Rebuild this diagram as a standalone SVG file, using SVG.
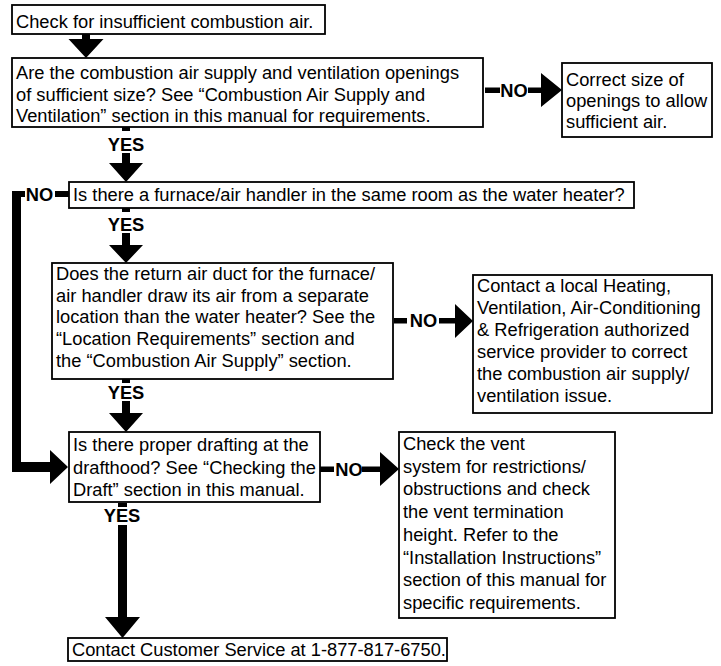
<svg xmlns="http://www.w3.org/2000/svg" width="721" height="666" viewBox="0 0 721 666">
<style>
.box{fill:#fff;stroke:#000;stroke-width:1.8}
.t{font-family:"Liberation Sans",Arial,sans-serif;font-size:18.3px;fill:#000}
.lbl{font-family:"Liberation Sans",Arial,sans-serif;font-size:18.3px;font-weight:bold;fill:#000;text-anchor:middle}
.c{fill:#000;stroke:none}
</style>
<rect width="721" height="666" fill="#fff"/>
<g id="connectors">
<polygon class="c" points="82,34 90,34 90,39 103.5,39 86,58 68.5,39 82,39"/>
<rect class="c" x="122" y="127" width="8" height="4"/>
<text class="lbl" x="126" y="151">YES</text>
<polygon class="c" points="122,153 130,153 130,163 143,163 126,182 109,163 122,163"/>
<rect class="c" x="485" y="87.5" width="15" height="5.5"/>
<text class="lbl" x="514" y="97">NO</text>
<polygon class="c" points="528,87.5 541,87.5 541,73 562,90 541,107 541,93 528,93"/>
<rect class="c" x="122" y="208" width="8" height="4"/>
<text class="lbl" x="126" y="231">YES</text>
<polygon class="c" points="122,233 130,233 130,245 143,245 126,263 109,245 122,245"/>
<rect class="c" x="55" y="191" width="14" height="6"/>
<text class="lbl" x="39.5" y="200.5">NO</text>
<polygon class="c" points="12,191 25,191 25,197 21,197 21,462 50,462 50,450 68,467 50,484 50,472 12,472"/>
<rect class="c" x="122" y="379" width="8" height="4"/>
<text class="lbl" x="126" y="399">YES</text>
<polygon class="c" points="122,401 130,401 130,413 143,413 126,432 109,413 122,413"/>
<rect class="c" x="394" y="318" width="13" height="5.5"/>
<text class="lbl" x="423.5" y="327">NO</text>
<polygon class="c" points="439,318 455,318 455,304 473,321 455,338 455,323.5 439,323.5"/>
<rect class="c" x="320" y="466.5" width="14" height="5.5"/>
<text class="lbl" x="349" y="475.5">NO</text>
<polygon class="c" points="362,466.5 380,466.5 380,452 399,469 380,486 380,472 362,472"/>
<rect class="c" x="118" y="503" width="9" height="4"/>
<text class="lbl" x="122" y="522">YES</text>
<polygon class="c" points="118,525 127,525 127,617 140,617 122.5,638 105,617 118,617"/>
</g>
<g id="n1">
<rect class="box" x="12" y="5" width="313" height="29"/>
<text class="t" x="16" y="28">Check for insufficient combustion air.</text>
</g>
<g id="n2">
<rect class="box" x="12" y="58" width="471" height="69"/>
<text class="t" x="16" y="79">Are the combustion air supply and ventilation openings</text>
<text class="t" x="16" y="100.5">of sufficient size? See “Combustion Air Supply and</text>
<text class="t" x="16" y="122">Ventilation” section in this manual for requirements.</text>
</g>
<g id="n3">
<rect class="box" x="562" y="63" width="150" height="74"/>
<text class="t" x="566" y="85.5">Correct size of</text>
<text class="t" x="566" y="106.5">openings to allow</text>
<text class="t" x="566" y="127.5">sufficient air.</text>
</g>
<g id="n4">
<rect class="box" x="69" y="182" width="565" height="26"/>
<text class="t" x="73" y="201">Is there a furnace/air handler in the same room as the water heater?</text>
</g>
<g id="n5">
<rect class="box" x="52" y="263" width="341" height="116"/>
<text class="t" x="56" y="280">Does the return air duct for the furnace/</text>
<text class="t" x="56" y="301.7">air handler draw its air from a separate</text>
<text class="t" x="56" y="323.4">location than the water heater? See the</text>
<text class="t" x="56" y="345.1">“Location Requirements” section and</text>
<text class="t" x="56" y="366.8">the “Combustion Air Supply” section.</text>
</g>
<g id="n6">
<rect class="box" x="473" y="275" width="239" height="138"/>
<text class="t" x="477" y="292">Contact a local Heating,</text>
<text class="t" x="477" y="314">Ventilation, Air-Conditioning</text>
<text class="t" x="477" y="336">&amp; Refrigeration authorized</text>
<text class="t" x="477" y="358">service provider to correct</text>
<text class="t" x="477" y="380">the combustion air supply/</text>
<text class="t" x="477" y="402">ventilation issue.</text>
</g>
<g id="n7">
<rect class="box" x="69" y="432" width="251" height="70"/>
<text class="t" x="73" y="451">Is there proper drafting at the</text>
<text class="t" x="73" y="473.5">drafthood? See “Checking the</text>
<text class="t" x="73" y="496">Draft” section in this manual.</text>
</g>
<g id="n8">
<rect class="box" x="399" y="432" width="216" height="186"/>
<text class="t" x="403" y="450">Check the vent</text>
<text class="t" x="403" y="472.7">system for restrictions/</text>
<text class="t" x="403" y="495.4">obstructions and check</text>
<text class="t" x="403" y="518.1">the vent termination</text>
<text class="t" x="403" y="540.8">height. Refer to the</text>
<text class="t" x="403" y="563.5">“Installation Instructions”</text>
<text class="t" x="403" y="586.2">section of this manual for</text>
<text class="t" x="403" y="608.9">specific requirements.</text>
</g>
<g id="n9">
<rect class="box" x="68" y="638" width="379" height="23"/>
<text class="t" x="72" y="656">Contact Customer Service at 1-877-817-6750.</text>
</g>
</svg>
